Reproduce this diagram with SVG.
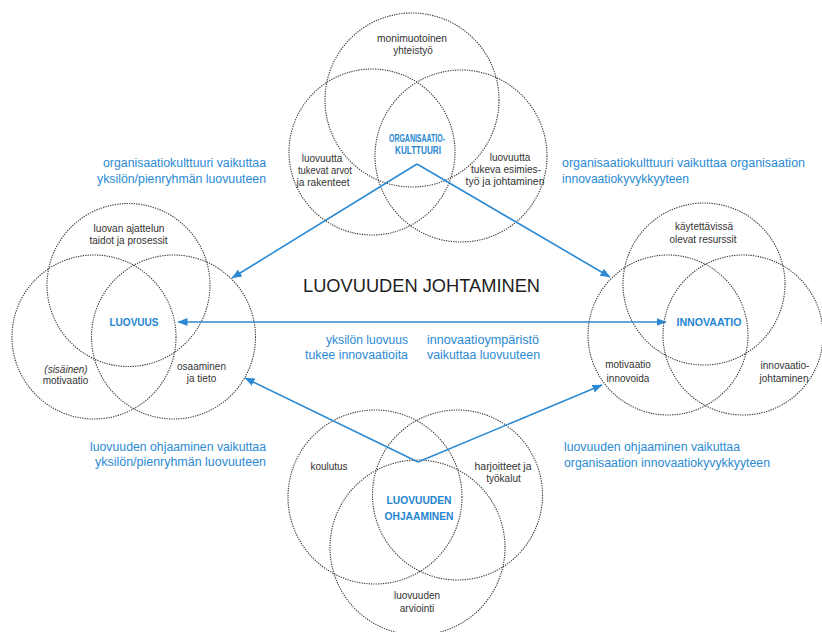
<svg xmlns="http://www.w3.org/2000/svg" width="822" height="632" viewBox="0 0 822 632">
  <defs>
    <marker id="arrow" viewBox="0 0 10 8" refX="9.5" refY="4" markerWidth="10" markerHeight="8" markerUnits="userSpaceOnUse" orient="auto-start-reverse">
      <path d="M0,0 L10,4 L0,8 Z" fill="#2b8ad3"/>
    </marker>
  </defs>
  <style>
    .c { fill: none; stroke: #3a3a3a; stroke-width: 1.1; stroke-dasharray: 1.3 1.1; }
    .t { font-family: "Liberation Sans", Arial, sans-serif; font-size: 10px; fill: #333; text-anchor: middle; }
    .k { font-family: "Liberation Sans", Arial, sans-serif; font-size: 11px; font-weight: bold; fill: #1f86d0; text-anchor: middle; }
    .b { font-family: "Liberation Sans", Arial, sans-serif; font-size: 12.3px; fill: #2b8ad3; }
    .title { font-family: "Liberation Sans", Arial, sans-serif; font-size: 18px; fill: #1e1e1e; text-anchor: middle; }
    .ln { fill: none; stroke: #2b8ad3; stroke-width: 1.6; }
  </style>
  <rect width="822" height="632" fill="#ffffff"/>

  <!-- Organisaatiokulttuuri cluster -->
  <g id="organisaatiokulttuuri">
    <circle class="c" cx="412" cy="100" r="87"/>
    <circle class="c" cx="372" cy="152" r="83"/>
    <circle class="c" cx="461" cy="156" r="86"/>
    <text class="t" x="412" y="42" textLength="70" lengthAdjust="spacingAndGlyphs">monimuotoinen</text>
    <text class="t" x="413" y="54">yhteistyö</text>
    <text class="k" x="417" y="142" textLength="56" lengthAdjust="spacingAndGlyphs">ORGANISAATIO-</text>
    <text class="k" x="418" y="154" textLength="46" lengthAdjust="spacingAndGlyphs">KULTTUURI</text>
    <text class="t" x="322" y="162">luovuutta</text>
    <text class="t" x="325" y="174" textLength="54" lengthAdjust="spacingAndGlyphs">tukevat arvot</text>
    <text class="t" x="323" y="185.5" textLength="53" lengthAdjust="spacingAndGlyphs">ja rakenteet</text>
    <text class="t" x="510" y="161">luovuutta</text>
    <text class="t" x="506" y="173" textLength="70" lengthAdjust="spacingAndGlyphs">tukeva esimies-</text>
    <text class="t" x="505" y="184.5" textLength="79" lengthAdjust="spacingAndGlyphs">työ ja johtaminen</text>
  </g>

  <!-- Luovuus cluster -->
  <g id="luovuus">
    <circle class="c" cx="128.5" cy="285" r="81.5"/>
    <circle class="c" cx="94" cy="337" r="82"/>
    <circle class="c" cx="173.5" cy="337" r="82"/>
    <text class="t" x="129" y="232" textLength="71" lengthAdjust="spacingAndGlyphs">luovan ajattelun</text>
    <text class="t" x="128.5" y="244" textLength="78" lengthAdjust="spacingAndGlyphs">taidot ja prosessit</text>
    <text class="k" x="134" y="326" textLength="49" lengthAdjust="spacingAndGlyphs">LUOVUUS</text>
    <text class="t" x="66" y="372.5" font-style="italic">(sisäinen)</text>
    <text class="t" x="65.5" y="384">motivaatio</text>
    <text class="t" x="201.5" y="370">osaaminen</text>
    <text class="t" x="201.5" y="382">ja tieto</text>
  </g>

  <!-- Innovaatio cluster -->
  <g id="innovaatio">
    <circle class="c" cx="704" cy="284" r="81"/>
    <circle class="c" cx="668" cy="335" r="80"/>
    <circle class="c" cx="743" cy="335" r="80"/>
    <text class="t" x="704" y="230" textLength="58" lengthAdjust="spacingAndGlyphs">käytettävissä</text>
    <text class="t" x="703" y="242.5" textLength="67" lengthAdjust="spacingAndGlyphs">olevat resurssit</text>
    <text class="k" x="709" y="326" textLength="65" lengthAdjust="spacingAndGlyphs">INNOVAATIO</text>
    <text class="t" x="628" y="368">motivaatio</text>
    <text class="t" x="628" y="381.5">innovoida</text>
    <text class="t" x="785" y="369">innovaatio-</text>
    <text class="t" x="784" y="382">johtaminen</text>
  </g>

  <!-- Luovuuden ohjaaminen cluster -->
  <g id="luovuuden-ohjaaminen">
    <circle class="c" cx="375" cy="497" r="87"/>
    <circle class="c" cx="457.5" cy="495" r="85"/>
    <circle class="c" cx="417.5" cy="547.5" r="87.5"/>
    <text class="t" x="329" y="470">koulutus</text>
    <text class="t" x="503" y="470" textLength="57" lengthAdjust="spacingAndGlyphs">harjoitteet ja</text>
    <text class="t" x="503.5" y="482">työkalut</text>
    <text class="k" x="419" y="503.5" textLength="65" lengthAdjust="spacingAndGlyphs">LUOVUUDEN</text>
    <text class="k" x="419" y="520" textLength="69" lengthAdjust="spacingAndGlyphs">OHJAAMINEN</text>
    <text class="t" x="417" y="598.5">luovuuden</text>
    <text class="t" x="417" y="612">arviointi</text>
  </g>

  <!-- Heading -->
  <g id="luovuuden-johtaminen">
    <text class="title" x="421.5" y="292" textLength="237" lengthAdjust="spacingAndGlyphs">LUOVUUDEN JOHTAMINEN</text>
  </g>

  <!-- Connectors -->
  <g id="connectors">
    <line class="ln" x1="417" y1="164" x2="232" y2="278" marker-end="url(#arrow)"/>
    <line class="ln" x1="417" y1="164" x2="610" y2="277" marker-end="url(#arrow)"/>
    <line class="ln" x1="418" y1="462" x2="245" y2="378" marker-end="url(#arrow)"/>
    <line class="ln" x1="418" y1="462" x2="602" y2="385" marker-end="url(#arrow)"/>
    <line class="ln" x1="178" y1="322" x2="666" y2="322" marker-start="url(#arrow)" marker-end="url(#arrow)"/>
  </g>

  <!-- Connector labels -->
  <g id="labels">
    <text class="b" x="266" y="166.5" text-anchor="end" textLength="163" lengthAdjust="spacingAndGlyphs">organisaatiokulttuuri vaikuttaa</text>
    <text class="b" x="266" y="182.5" text-anchor="end" textLength="169" lengthAdjust="spacingAndGlyphs">yksilön/pienryhmän luovuuteen</text>
    <text class="b" x="562" y="167" textLength="243" lengthAdjust="spacingAndGlyphs">organisaatiokulttuuri vaikuttaa organisaation</text>
    <text class="b" x="562" y="183" textLength="127" lengthAdjust="spacingAndGlyphs">innovaatiokyvykkyyteen</text>
    <text class="b" x="408" y="343.5" text-anchor="end" textLength="82" lengthAdjust="spacingAndGlyphs">yksilön luovuus</text>
    <text class="b" x="408" y="359" text-anchor="end" textLength="103" lengthAdjust="spacingAndGlyphs">tukee innovaatioita</text>
    <text class="b" x="427" y="343.5" textLength="112" lengthAdjust="spacingAndGlyphs">innovaatioympäristö</text>
    <text class="b" x="427" y="359" textLength="113" lengthAdjust="spacingAndGlyphs">vaikuttaa luovuuteen</text>
    <text class="b" x="266" y="450.5" text-anchor="end" textLength="176" lengthAdjust="spacingAndGlyphs">luovuuden ohjaaminen vaikuttaa</text>
    <text class="b" x="266" y="466" text-anchor="end" textLength="171" lengthAdjust="spacingAndGlyphs">yksilön/pienryhmän luovuuteen</text>
    <text class="b" x="564" y="450.5" textLength="176" lengthAdjust="spacingAndGlyphs">luovuuden ohjaaminen vaikuttaa</text>
    <text class="b" x="564" y="466.5" textLength="206" lengthAdjust="spacingAndGlyphs">organisaation innovaatiokyvykkyyteen</text>
  </g>
</svg>
